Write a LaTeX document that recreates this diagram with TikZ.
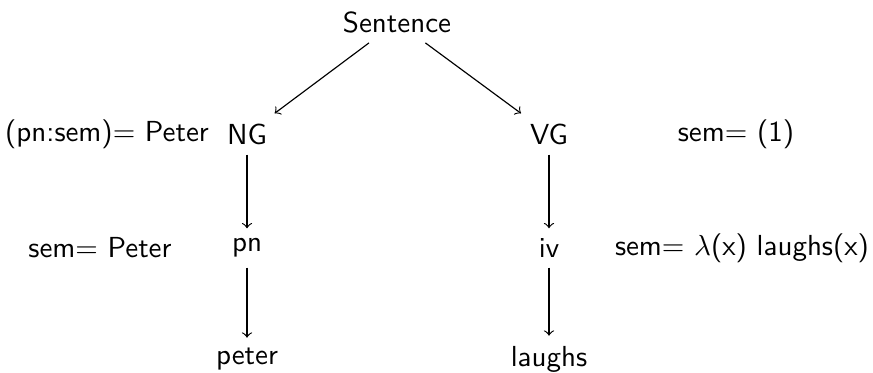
\documentclass[tikz,border=0pt]{standalone}
\begin{document}
\begin{tikzpicture}[x=0.345pt,y=-0.345pt,
  every node/.style={font=\sffamily},
  edge/.style={->}]
\useasboundingbox (0,0) rectangle (873,373);
% tree nodes
\node (s)  at (397,22)  {Sentence};
\node (ng) at (247,134) {NG};
\node (vg) at (549,134) {VG};
\node (pn) at (247,248) {pn};
\node (iv) at (549,248) {iv};
\node (pe) at (247,359) {peter};
\node (la) at (549,359) {laughs};
% semantic annotations
\node (a1) at (107,134) {(pn:sem)$=$ Peter};
\node (a2) at (736,134) {sem$=$ (1)};
\node (a3) at (100,248) {sem$=$ Peter};
\node (a4) at (742,248) {sem$=$ $\lambda$(x) laughs(x)};
% edges
\draw[edge] (s) -- (ng);
\draw[edge] (s) -- (vg);
\draw[edge] (ng) -- (pn);
\draw[edge] (pn) -- (pe);
\draw[edge] (vg) -- (iv);
\draw[edge] (iv) -- (la);
\end{tikzpicture}
\end{document}
